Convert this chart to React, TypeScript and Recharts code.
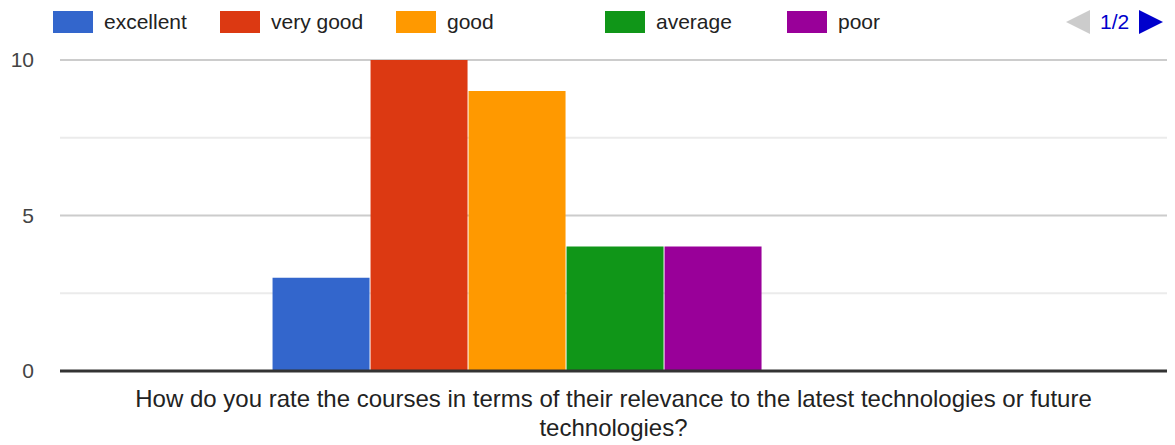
import { Bar, BarChart, CartesianGrid, XAxis, YAxis } from 'recharts'

// question asked (single category) and the label lines under the axis
const QUESTION = 'How do you rate the courses in terms of their relevance to the latest technologies or future technologies?'
const QUESTION_LINES = [
  'How do you rate the courses in terms of their relevance to the latest technologies or future',
  'technologies?',
]

// legend page 1 series + two more series on page 2 (no responses)
const RATINGS = ['excellent', 'very good', 'good', 'average', 'poor']
const COUNTS = [3, 10, 9, 4, 4]
const PAGE2_KEYS = ['other1', 'other2']
const PAGE2_COUNTS = [0, 0]

const COLORS = ['#3366cc', '#dc3912', '#ff9900', '#109618', '#990099', '#0099c6', '#dd4477']

const Y_TICKS = [0, 5, 10]
const MAJOR_GRID = [5, 10]
const MINOR_GRID = [2.5, 7.5]

const FONT = '"Liberation Sans", Arial, sans-serif'
const LEGEND_LEFT = [53, 220, 396, 605, 787]

const keys = [...RATINGS, ...PAGE2_KEYS]
const values = [...COUNTS, ...PAGE2_COUNTS]
const row: Record<string, string | number> = { question: QUESTION }
keys.forEach((k, i) => {
  row[k] = values[i]
})
const data = [row]

function QuestionTick({ x, y }: { x?: number; y?: number }) {
  return (
    <text x={x} y={y} textAnchor="middle" fill="#222" fontSize={24} fontFamily={FONT}>
      {QUESTION_LINES.map((line, i) => (
        <tspan key={i} x={x} dy={i === 0 ? 36 : 29}>
          {line}
        </tspan>
      ))}
    </text>
  )
}

function LegendBar() {
  return (
    <div style={{ position: 'absolute', top: 0, left: 0, width: 1175, height: 44, fontFamily: FONT }}>
      {RATINGS.map((name, i) => (
        <div
          key={name}
          style={{
            position: 'absolute',
            left: LEGEND_LEFT[i],
            top: 11,
            height: 22,
            display: 'flex',
            alignItems: 'center',
            whiteSpace: 'nowrap',
          }}
        >
          <span style={{ width: 40, height: 22, background: COLORS[i], display: 'inline-block' }} />
          <span style={{ marginLeft: 11, fontSize: 21, color: '#222', lineHeight: '22px' }}>{name}</span>
        </div>
      ))}
      <div style={{ position: 'absolute', left: 1066, top: 10, height: 24, display: 'flex', alignItems: 'center' }}>
        <svg width={24} height={24}>
          <polygon points="24,0 24,24 0,12" fill="#cccccc" />
        </svg>
        <span style={{ marginLeft: 10, marginRight: 10, fontSize: 21, color: '#0000cc', lineHeight: '24px' }}>1/2</span>
        <svg width={24} height={24}>
          <polygon points="0,0 0,24 24,12" fill="#0000cc" />
        </svg>
      </div>
    </div>
  )
}

export default function App() {
  return (
    <div style={{ position: 'absolute', top: 0, left: 0, width: 1175, height: 445, background: '#fff' }}>
      <BarChart
        width={1175}
        height={445}
        data={data}
        margin={{ top: 60, right: 8, bottom: 0, left: 0 }}
        barCategoryGap="19.2%"
        barGap={1}
      >
        <CartesianGrid vertical={false} horizontalValues={MINOR_GRID} stroke="#ebebeb" strokeWidth={2} />
        <CartesianGrid vertical={false} horizontalValues={MAJOR_GRID} stroke="#cccccc" strokeWidth={2} />
        <XAxis
          dataKey="question"
          height={74}
          tickLine={false}
          tickSize={0}
          tickMargin={0}
          axisLine={{ stroke: '#333', strokeWidth: 3 }}
          tick={<QuestionTick />}
          interval={0}
        />
        <YAxis
          width={60}
          domain={[0, 10]}
          ticks={Y_TICKS}
          axisLine={false}
          tickLine={false}
          tickSize={0}
          tickMargin={26}
          tick={{ fill: '#444', fontSize: 21, fontFamily: FONT }}
        />
        {keys.map((k, i) => (
          <Bar key={k} dataKey={k} fill={COLORS[i]} isAnimationActive={false} />
        ))}
      </BarChart>
      <LegendBar />
    </div>
  )
}
